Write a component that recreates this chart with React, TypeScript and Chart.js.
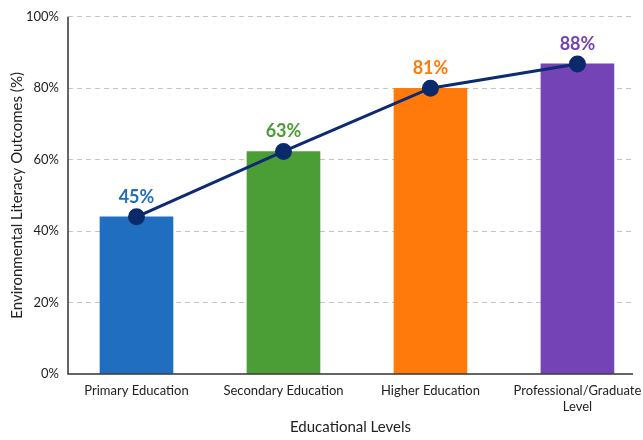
import React, { useEffect, useRef } from "react";
import { Chart, registerables } from "chart.js";

Chart.register(...registerables);

const categories: (string | string[])[] = [
  "Primary Education",
  "Secondary Education",
  "Higher Education",
  ["Professional/Graduate", "Level"],
];
const outcomeValues = [44, 62.3, 80, 86.8];
const valueLabels = ["45%", "63%", "81%", "88%"];
const barColors = ["#1f6ebf", "#4a9e35", "#ff7a0a", "#7443b5"];
const yTicks = [0, 20, 40, 60, 80, 100];

const FONT = "Lato, 'Open Sans', sans-serif";

export default function App() {
  const ref = useRef<HTMLCanvasElement | null>(null);
  useEffect(() => {
    if (!ref.current) return;
    const labelPlugin = {
      id: "valueLabels",
      afterDatasetsDraw(chart: any) {
        const meta = chart.getDatasetMeta(1);
        const ctx = chart.ctx;
        ctx.save();
        ctx.font = `bold 18px ${FONT}`;
        ctx.textAlign = "center";
        ctx.textBaseline = "middle";
        meta.data.forEach((pt: any, i: number) => {
          ctx.fillStyle = barColors[i];
          ctx.fillText(valueLabels[i], pt.x, pt.y - 20);
        });
        ctx.restore();
      },
    };
    const axisLines = {
      id: "axisLines",
      afterDraw(chart: any) {
        const { ctx, chartArea } = chart;
        ctx.save();
        ctx.strokeStyle = "#333";
        ctx.lineWidth = 1.5;
        ctx.setLineDash([]);
        ctx.beginPath();
        ctx.moveTo(chartArea.left, chartArea.top);
        ctx.lineTo(chartArea.left, chartArea.bottom);
        ctx.lineTo(chartArea.right, chartArea.bottom);
        ctx.stroke();
        ctx.restore();
      },
    };
    const chart = new Chart(ref.current, {
      type: "bar",
      data: {
        datasets: [
          {
            type: "bar",
            data: outcomeValues.map((v, i) => ({ x: i, y: v })),
            backgroundColor: barColors,
            barThickness: 73,
            order: 1,
          } as any,
          {
            type: "line",
            data: outcomeValues.map((v, i) => ({ x: i, y: v })),
            borderColor: "#0d2b72",
            backgroundColor: "#0a2a6b",
            borderWidth: 3,
            pointRadius: 7,
            pointBackgroundColor: "#0a2a6b",
            pointBorderColor: "#0a2a6b",
            tension: 0,
            order: 0,
          } as any,
        ],
      },
      options: {
        animation: false,
        responsive: true,
        maintainAspectRatio: false,
        layout: { padding: { top: 8, right: 0, left: 8, bottom: 4 } },
        plugins: { legend: { display: false }, tooltip: { enabled: false } },
        scales: {
          x: {
            type: "linear",
            min: -0.466,
            max: 3.378,
            offset: false,
            grid: { display: false, offset: false, drawTicks: false },
            border: { display: false },
            afterBuildTicks: (scale: any) => {
              scale.ticks = categories.map((_, i) => ({ value: i }));
            },
            afterFit: (scale: any) => {
              scale.height = 62;
              scale.paddingLeft = 0;
              scale.paddingRight = 0;
            },
            ticks: {
              autoSkip: false,
              maxRotation: 0,
              padding: 9,
              color: "#222",
              font: { family: FONT, size: 13 },
              callback: (v: any) => categories[v as number],
            },
            title: {
              display: true,
              text: "Educational Levels",
              color: "#222",
              font: { family: FONT, size: 15 },
              padding: { top: 4, bottom: 0 },
            },
          } as any,
          y: {
            min: 0,
            max: 100,
            afterBuildTicks: (scale: any) => {
              scale.ticks = yTicks.map((v) => ({ value: v }));
            },
            afterFit: (scale: any) => {
              scale.width = 60;
            },
            grid: {
              color: (c: any) => (c.tick && c.tick.value === 0 ? "rgba(0,0,0,0)" : "#c4c4c4"),
              drawTicks: false,
              lineWidth: 1,
            },
            border: { display: false, dash: [5, 4] },
            ticks: {
              padding: 9,
              color: "#222",
              font: { family: FONT, size: 13 },
              callback: (v: any) => v + "%",
            },
            title: {
              display: true,
              text: "Environmental Literacy Outcomes (%)",
              color: "#222",
              font: { family: FONT, size: 15 },
              padding: { top: 0, bottom: 6 },
            },
          } as any,
        },
      } as any,
      plugins: [labelPlugin, axisLines],
    });
    return () => chart.destroy();
  }, []);
  return (
    <div style={{ position: "fixed", left: 0, top: 0, width: 643, height: 440, background: "#fff" }}>
      <canvas ref={ref} />
    </div>
  );
}
